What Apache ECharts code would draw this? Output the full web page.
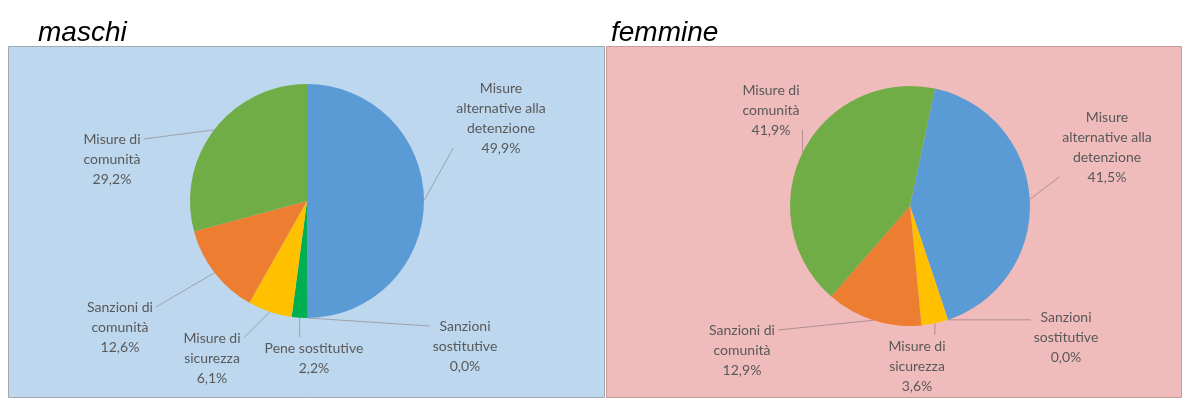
<!DOCTYPE html>
<html>
<head>
<meta charset="utf-8">
<script src="https://cdn.jsdelivr.net/npm/echarts@6/dist/echarts.min.js"></script>
<style>
  html, body { margin: 0; padding: 0; background: #fff; }
  #chart { width: 1187px; height: 401px; }
</style>
</head>
<body>
<div id="chart"></div>
<script>
// dati (percentuali)
var catMaschi = ['Misure\nalternative alla\ndetenzione', 'Sanzioni\nsostitutive', 'Pene sostitutive',
  'Misure di\nsicurezza', 'Sanzioni di\ncomunità', 'Misure di\ncomunità'];
var valMaschi = [49.9, 0.0, 2.2, 6.1, 12.6, 29.2];

var catFemmine = ['Misure\nalternative alla\ndetenzione', 'Sanzioni\nsostitutive',
  'Misure di\nsicurezza', 'Sanzioni di\ncomunità', 'Misure di\ncomunità'];
var valFemmine = [41.5, 0.0, 3.6, 12.9, 41.9];

var colMaschi = ['#5B9BD5', '#A5A5A5', '#00B050', '#FFC000', '#ED7D31', '#70AD47'];
var colFemmine = ['#5B9BD5', '#A5A5A5', '#FFC000', '#ED7D31', '#70AD47'];

// posizione delle etichette (centro del blocco di testo, px)
var labelPosMaschi = [[501, 118], [465, 346], [314, 358], [212, 358], [120, 327], [112, 159]];
var labelPosFemmine = [[1107, 147], [1066, 337], [917, 366], [742, 350], [771, 110]];

function toData(cats, vals, cols) {
  return cats.map(function (c, i) {
    return { name: c, value: vals[i], itemStyle: { color: cols[i] } };
  });
}

function fmt(p) {
  return p.name + '\n' + p.value.toFixed(1).replace('.', ',') + '%';
}

function clamp(v, a, b) { return Math.min(Math.max(v, a), b); }

// sposta l'etichetta e collega la linea dal bordo della fetta al lato più vicino del testo
function makeLayout(posList) {
  return function (params) {
    var p = posList[params.dataIndex];
    var w = params.labelRect.width, h = params.labelRect.height;
    var rx = p[0] - w / 2, ry = p[1] - h / 2;
    var res = { x: p[0], y: p[1], align: 'center', verticalAlign: 'middle' };
    if (params.labelLinePoints) {
      var s = params.labelLinePoints[0];
      var ex, ey;
      if (s[0] < rx - 2 || s[0] > rx + w + 2) {
        ex = s[0] < rx ? rx - 3 : rx + w + 3;
        ey = clamp(s[1], ry + 10, ry + h - 10);
      } else {
        ex = s[0];
        ey = s[1] < ry ? ry - 1 : ry + h + 1;
      }
      res.labelLinePoints = [[s[0], s[1]], [(s[0] + ex) / 2, (s[1] + ey) / 2], [ex, ey]];
    }
    return res;
  };
}

var labelCommon = {
  show: true,
  position: 'outside',
  formatter: fmt,
  color: '#595959',
  fontFamily: 'Lato',
  fontSize: 14,
  lineHeight: 20,
  align: 'center'
};

var titleStyle = { fontFamily: 'Liberation Sans', fontStyle: 'italic', fontWeight: 'normal', fontSize: 28, color: '#000' };

var myChart = echarts.init(document.getElementById('chart'));
var option = {
  animation: false,
  backgroundColor: '#fff',
  title: [
    { text: 'maschi', left: 33, top: 14, textStyle: titleStyle },
    { text: 'femmine', left: 606, top: 14, textStyle: titleStyle }
  ],
  graphic: [
    { type: 'rect', z: -10, shape: { x: 8.5, y: 46.5, width: 596, height: 351 }, style: { fill: '#BDD7EE', stroke: '#A0A8B0', lineWidth: 1 } },
    { type: 'rect', z: -10, shape: { x: 606.5, y: 46.5, width: 575, height: 351 }, style: { fill: '#F0BBBB', stroke: '#C99A9A', lineWidth: 1 } }
  ],
  series: [
    {
      name: 'maschi',
      type: 'pie',
      center: [307, 201],
      radius: 117,
      startAngle: 90,
      clockwise: true,
      data: toData(catMaschi, valMaschi, colMaschi),
      label: labelCommon,
      labelLine: { show: true, smooth: false, lineStyle: { color: '#9DA3AA', width: 1 } },
      labelLayout: makeLayout(labelPosMaschi),
      emphasis: { disabled: true }
    },
    {
      name: 'femmine',
      type: 'pie',
      center: [910, 206],
      radius: 120,
      startAngle: 78,
      clockwise: true,
      data: toData(catFemmine, valFemmine, colFemmine),
      label: labelCommon,
      labelLine: { show: true, smooth: false, lineStyle: { color: '#B08F93', width: 1 } },
      labelLayout: makeLayout(labelPosFemmine),
      emphasis: { disabled: true }
    }
  ]
};
myChart.setOption(option);
</script>
</body>
</html>
